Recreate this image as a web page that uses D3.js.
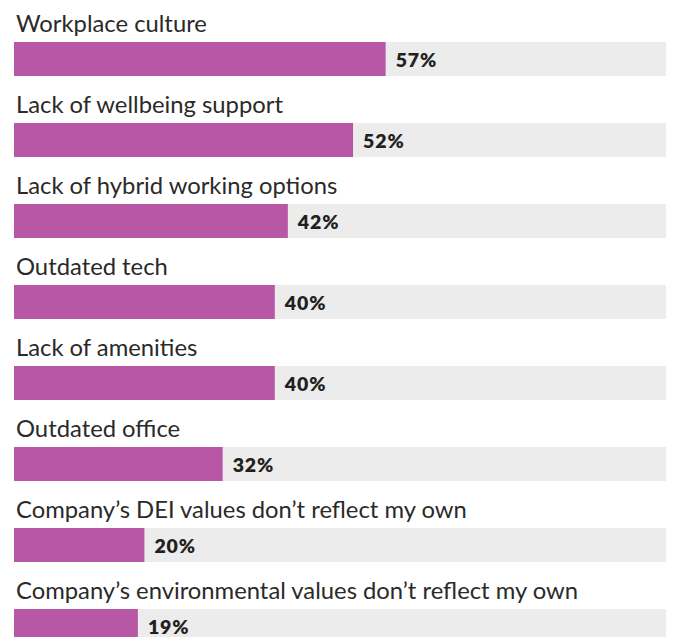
<!DOCTYPE html>
<html><head><meta charset="utf-8">
<script src="https://cdn.jsdelivr.net/npm/d3@7"></script>
<style>body{margin:0;background:#fff}svg{display:block}</style>
</head><body>
<script>
const categories = ["Workplace culture","Lack of wellbeing support","Lack of hybrid working options","Outdated tech","Lack of amenities","Outdated office","Company\u2019s DEI values don\u2019t reflect my own","Company\u2019s environmental values don\u2019t reflect my own"];
const values = [57,52,42,40,40,32,20,19];
const W=673,H=637;
const svg=d3.select("body").append("svg").attr("width",W).attr("height",H);
const x=d3.scaleLinear().domain([0,100]).range([14,666]);
const y=d3.scaleBand().domain(categories).range([0,648]).paddingInner(0).paddingOuter(0);
const g=svg.selectAll("g.row").data(categories).join("g").attr("class","row")
  .attr("transform",d=>`translate(0,${y(d)})`);
g.append("text").attr("x",16).attr("y",32).text(d=>d)
  .attr("font-family","Lato, 'Noto Sans', sans-serif").attr("font-size",23.8).attr("fill","#2a2a2a");
g.append("rect").attr("x",x(0)).attr("y",42).attr("width",x(100)-x(0)).attr("height",34).attr("fill","#ebeceb");
g.append("rect").attr("x",x(0)).attr("y",42).attr("width",(d,i)=>x(values[i])-x(0)).attr("height",34).attr("fill","#b857a6");
g.append("text").attr("x",(d,i)=>x(values[i])+10).attr("y",67).text((d,i)=>values[i]+"%")
  .attr("font-family","Lato, 'Noto Sans', sans-serif").attr("font-weight",800).attr("font-size",19.5)
  .attr("letter-spacing",0.9).attr("fill","#231f20");
</script>
</body></html>
